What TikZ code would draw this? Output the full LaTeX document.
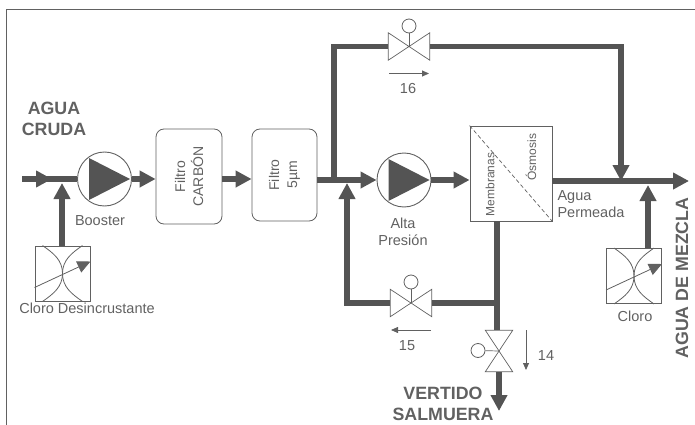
\documentclass[tikz,border=0pt]{standalone}
\usepackage{fontspec}
\setmainfont{Liberation Sans}
\usepackage{xcolor}
\usetikzlibrary{arrows.meta}
\definecolor{pipegray}{gray}{0.33}
\definecolor{inkgray}{gray}{0.38}
\tikzset{
    pipe/.style={draw=pipegray,line width=5.5pt},
    flow/.style={pipe,-{Triangle[length=16pt,width=16pt,fill=pipegray]}},
    thinflow/.style={draw=inkgray,line width=0.8pt,-{Triangle[length=7pt,width=6pt,fill=inkgray]}},
    pump/.style={circle,draw=inkgray,line width=0.9pt,minimum size=54pt,inner sep=0pt},
    filtro/.style={rectangle,rounded corners=8pt,draw=inkgray,line width=0.8pt,align=center,text=inkgray,font=\fontsize{14}{18}\selectfont},
    valve/.style={minimum width=41pt,minimum height=27pt,inner sep=0pt},
    valvev/.style={minimum width=27pt,minimum height=41pt,inner sep=0pt},
    handle/.style={circle,draw=inkgray,line width=0.8pt,minimum size=14pt,inner sep=0pt},
    dosing/.style={rectangle,draw=inkgray,line width=0.9pt,minimum size=55pt,inner sep=0pt},
    label/.style={text=inkgray,align=center,font=\fontsize{14.5}{17}\selectfont},
    title/.style={text=inkgray,align=center,font=\fontsize{17.8}{21}\selectfont\bfseries}
}
\begin{document}
\begin{tikzpicture}[x=1pt,y=-1pt]
\useasboundingbox (0,0) rectangle (695,425);
\coordinate (frameA) at (6,425);
\coordinate (frameB) at (6,9);
\coordinate (frameC) at (695,9);
\draw[inkgray,line width=0.8pt] (frameA) -- (frameB) -- (frameC);
% equipment
\node[pump] (P1) at (104.5,179) {};
\node[pump] (P2) at (404,180) {};
\node[filtro,rotate=90,minimum width=95pt,minimum height=66pt] (F1) at (189,176.5) {Filtro\\CARBÓN};
\node[filtro,rotate=90,minimum width=92pt,minimum height=65pt] (F2) at (284.5,175) {Filtro\\5µm};
\node[rectangle,draw=inkgray,line width=0.9pt,minimum width=82pt,minimum height=95pt,inner sep=0pt] (M) at (511,173.5) {};
\node[dosing] (D1) at (62.5,273.5) {};
\node[dosing] (D2) at (634,276) {};
\node[valve] (V16) at (409,46.5) {};
\node[valve] (V15) at (411,303) {};
\node[valvev] (V14) at (499,351) {};
\node[handle] (H16) at (409,26) {};
\node[handle] (H15) at (411,282) {};
\node[handle] (H14) at (478,350.5) {};
% pump triangles
\foreach \p in {P1,P2} {
    \fill[pipegray] ([shift={(-15.5,-21)}]\p.center) -- ([shift={(25.5,0)}]\p.center) -- ([shift={(-15.5,21)}]\p.center) -- cycle;
}
% valve bodies
\foreach \v in {V16,V15} {
    \draw[inkgray,line width=0.7pt] (\v.north west) -- (\v.south east) -- (\v.north east) -- (\v.south west) -- cycle;
}
\draw[inkgray,line width=0.7pt] (V14.north west) -- (V14.north east) -- (V14.south west) -- (V14.south east) -- cycle;
\draw[inkgray,line width=0.7pt] (H16) -- (V16.center);
\draw[inkgray,line width=0.7pt] (H15) -- (V15.center);
\draw[inkgray,line width=0.7pt] (H14) -- (V14.center);
% dosing pumps
\foreach \d in {D1,D2} {
    \draw[inkgray,line width=0.8pt] ([xshift=8pt]\d.north west) to[out=-35,in=90] (\d.center) to[out=-90,in=35] ([xshift=8pt]\d.south west);
    \draw[inkgray,line width=0.8pt] ([xshift=-8pt]\d.north east) to[out=-145,in=90] (\d.center) to[out=-90,in=145] ([xshift=-8pt]\d.south east);
    \draw[thinflow,-{Triangle[length=13pt,width=12pt,fill=inkgray]}] ([yshift=-14pt]\d.west) -- ([yshift=12pt]\d.east);
}
\draw[inkgray,line width=0.7pt,dashed,dash pattern=on 4pt off 2.5pt] (M.north west) -- (M.south east);
% junctions
\coordinate (in) at (22,179);
\coordinate (inA) at (52,179);
\coordinate (j1) at (62,179);
\coordinate (j2) at (334,180);
\coordinate (j3) at (347,180);
\coordinate (j4) at (621,181);
\coordinate (j5) at (648,181);
\coordinate (j6) at (497,303);
\coordinate (out) at (689,181);
\coordinate (waste) at (499,411);
% main pipes
\draw[pipe] (in) -- (P1.west);
\draw[flow] (in) -- (inA);
\draw[flow] (D1.north -| j1) -- ([yshift=-4pt]j1);
\draw[flow] (P1.east) -- (F1.north |- P1.east);
\draw[flow] (F1.south |- j1) -- (F2.north |- j1);
\draw[flow] (F2.south |- P2.west) -- (P2.west);
\draw[flow] (P2.east) -- (M.west |- P2.east);
\draw[pipe] (j2) -- (V16.west -| j2) -- (V16.west);
\draw[flow] (V16.east) -| (j4);
\draw[flow] (M.east |- j4) -- (out);
\draw[flow] (D2.north -| j5) -- ([yshift=-4pt]j5);
\draw[pipe] (M.south -| j6) -- (V14.north -| j6);
\draw[pipe] (j6) -- (V15.east);
\draw[flow] (V15.west) -| ([yshift=-3pt]j3);
\draw[flow] (V14.south) -- (waste);
% flow direction marks
\coordinate (a16) at (389,73.5);
\coordinate (b16) at (429,73.5);
\coordinate (a15) at (431,330);
\coordinate (b15) at (391,330);
\coordinate (a14) at (526,330);
\coordinate (b14) at (526,370);
\draw[thinflow] (a16) -- (b16);
\draw[thinflow] (a15) -- (b15);
\draw[thinflow] (a14) -- (b14);
% labels
\node[title] (tCruda) at (54,119) {AGUA\\CRUDA};
\node[title,inner sep=0pt] (tVertido) at (443,404) {VERTIDO\\SALMUERA};
\node[title,rotate=90] (tMezcla) at (682,278) {AGUA DE MEZCLA};
\node[label] (lBooster) at (100,221) {Booster};
\node[label] (lCloroD) at (87,308) {Cloro Desincrustante};
\node[label] (lAlta) at (403,232) {Alta\\Presión};
\node[label,align=left,anchor=west] (lAgua) at (554,204.5) {Agua\\Permeada};
\node[label] (lCloro) at (635,316) {Cloro};
\node[label] (l16) at (408,89) {16};
\node[label] (l15) at (407,346) {15};
\node[label] (l14) at (546,356) {14};
\node[label,rotate=90,font=\fontsize{12}{14}\selectfont] (lMem) at (490,184.5) {Membranas};
\node[label,rotate=90,font=\fontsize{12}{14}\selectfont] (lOsm) at (531,157) {Ósmosis};
\end{tikzpicture}
\end{document}
